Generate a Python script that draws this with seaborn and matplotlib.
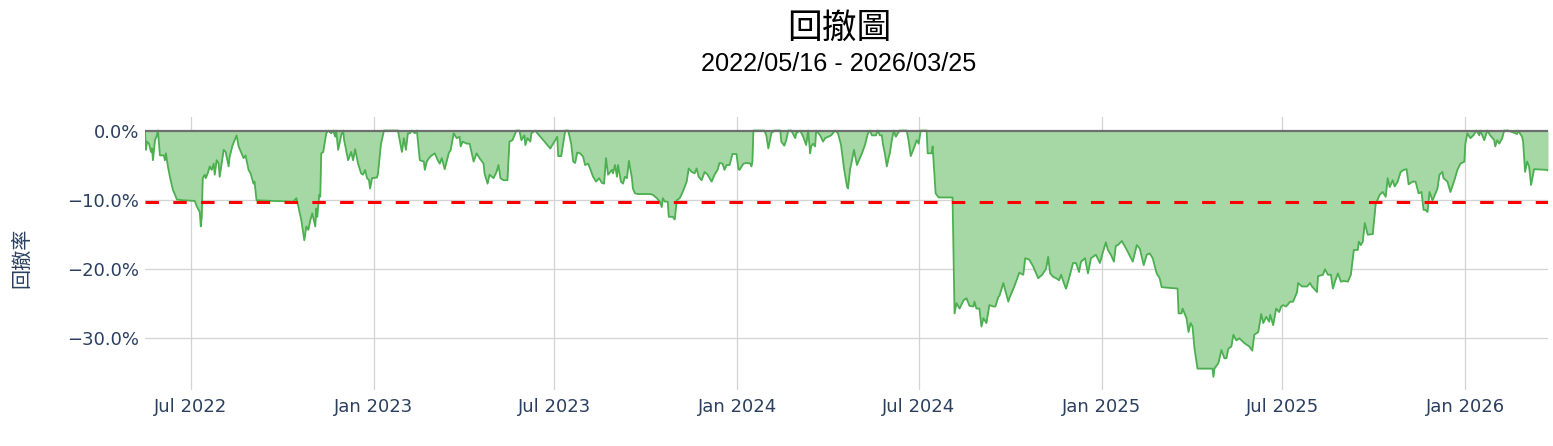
import matplotlib
matplotlib.use("Agg")
import matplotlib.pyplot as plt
import matplotlib.dates as mdates
from matplotlib.ticker import FixedLocator, FuncFormatter
import pandas as pd
import seaborn as sns

# === Dati ===
start_date = "2022-05-16"
end_date = "2026-03-25"
title_text = "回撤圖"
subtitle_text = "2022/05/16 - 2026/03/25"
ylabel_text = "回撤率"
threshold_pct = -10.4
y_ticks = [0, -10, -20, -30]

# giorni dall'inizio, drawdown in %
day_offset = [
    0, 1, 2, 4, 6, 7, 8, 10, 12, 13, 15, 19, 20, 21, 23, 25, 28, 29, 32, 38,
    50, 52, 55, 56, 57, 58, 60, 61, 63, 65, 67, 69, 70, 72, 74, 75, 78, 79, 81, 84,
    85, 88, 90, 92, 94, 97, 99, 101, 104, 106, 109, 110, 112, 129, 149, 152, 154, 157, 160, 162,
    164, 166, 168, 171, 172, 173, 175, 176, 177, 179, 182, 184, 187, 189, 191, 192, 194, 197, 199, 200,
    204, 207, 209, 211, 214, 217, 219, 221, 223, 225, 226, 228, 233, 234, 236, 237, 240, 254, 258, 260,
    262, 264, 266, 268, 271, 273, 275, 276, 280, 281, 283, 285, 288, 291, 294, 296, 298, 301, 305, 307,
    310, 313, 316, 317, 319, 323, 326, 330, 333, 336, 340, 341, 344, 346, 350, 353, 355, 357, 360, 364,
    366, 369, 373, 376, 378, 381, 382, 384, 387, 388, 392, 394, 400, 407, 412, 414, 415, 418, 420, 422,
    425, 428, 430, 432, 434, 437, 440, 442, 445, 447, 450, 453, 456, 459, 461, 463, 465, 469, 470, 472,
    474, 475, 478, 480, 482, 484, 486, 489, 490, 492, 495, 507, 510, 514, 517, 519, 520, 522, 525, 526,
    530, 532, 534, 537, 540, 544, 546, 549, 552, 554, 556, 559, 562, 565, 569, 572, 575, 577, 580, 582,
    584, 587, 590, 594, 596, 597, 601, 604, 608, 609, 610, 611, 622, 624, 626, 629, 632, 638, 639, 642,
    644, 646, 649, 653, 654, 658, 661, 664, 666, 668, 669, 671, 673, 674, 678, 681, 683, 686, 689, 693,
    696, 699, 702, 705, 706, 708, 710, 712, 715, 717, 720, 723, 726, 728, 730, 734, 736, 738, 740, 741,
    743, 745, 747, 748, 750, 752, 754, 756, 758, 765, 767, 769, 772, 775, 777, 779, 785, 786, 790, 791,
    794, 797, 811, 813, 815, 818, 822, 825, 828, 832, 833, 835, 838, 840, 842, 845, 848, 852, 854, 857,
    858, 862, 867, 868, 873, 878, 882, 884, 888, 892, 897, 901, 905, 907, 909, 912, 915, 918, 920, 924,
    925, 928, 932, 935, 938, 940, 944, 947, 950, 955, 959, 962, 965, 967, 970, 973, 975, 977, 981, 986,
    992, 996, 999, 1003, 1006, 1009, 1012, 1016, 1019, 1021, 1037, 1038, 1041, 1042, 1046, 1048, 1050, 1052, 1054, 1057,
    1072, 1073, 1074, 1078, 1081, 1084, 1086, 1088, 1091, 1093, 1096, 1099, 1104, 1109, 1112, 1114, 1118, 1121, 1123, 1126,
    1129, 1130, 1133, 1136, 1139, 1141, 1143, 1146, 1150, 1153, 1157, 1158, 1162, 1167, 1170, 1172, 1177, 1178, 1183, 1185,
    1188, 1191, 1193, 1195, 1198, 1201, 1204, 1208, 1211, 1214, 1218, 1219, 1221, 1223, 1225, 1228, 1233, 1236, 1240, 1243,
    1246, 1248, 1250, 1253, 1255, 1258, 1261, 1264, 1267, 1269, 1273, 1276, 1279, 1282, 1284, 1286, 1288, 1290, 1293, 1294,
    1298, 1300, 1303, 1304, 1308, 1311, 1315, 1318, 1321, 1325, 1326, 1328, 1331, 1334, 1337, 1340, 1341, 1345, 1348, 1351,
    1355, 1356, 1358, 1360, 1363, 1365, 1369, 1378, 1379, 1383, 1384, 1386, 1388, 1390, 1392, 1395, 1408, 1409,
]
drawdown_pct = [
    0.0, -2.8, -1.6, -1.9, -3.1, -2.6, -4.3, -1.4, -0.7, 0.0, -3.6, -3.6, -4.3, -3.3, -5.2, -6.7, -8.6, -8.9, -10.0, -10.1,
    -10.2, -11.0, -11.8, -13.9, -12.5, -6.9, -6.4, -6.9, -6.2, -5.2, -5.7, -4.8, -6.4, -4.3, -4.8, -6.7, -3.8, -2.8, -3.1, -5.2,
    -3.8, -2.1, -1.4, -0.7, -2.3, -3.3, -4.0, -3.6, -5.7, -6.2, -7.7, -7.4, -10.1, -10.2, -10.3, -9.8, -11.0, -13.0, -15.9, -13.9,
    -14.4, -13.0, -12.0, -13.9, -11.3, -12.5, -9.3, -9.6, -3.3, -3.1, -0.4, 0.0, -0.4, 0.0, -0.9, 0.0, -2.8, -0.7, 0.0, -1.4,
    -4.3, -3.1, -4.3, -2.7, -4.8, -6.2, -6.4, -5.7, -6.9, -7.2, -8.4, -6.9, -6.8, -6.2, -3.3, -1.9, 0.0, 0.0, -3.1, -1.1,
    -2.8, -0.4, -0.4, 0.0, -0.4, 0.0, -2.8, -4.3, -4.5, -5.7, -4.5, -4.0, -3.6, -3.3, -4.3, -4.8, -4.0, -5.6, -3.3, -2.8,
    -0.4, -1.1, -0.9, -2.3, -1.6, -1.9, -1.9, -4.5, -3.3, -4.0, -4.8, -6.2, -7.7, -6.4, -6.9, -6.0, -5.0, -6.9, -7.2, -7.2,
    -1.6, -1.4, 0.0, 0.0, -1.4, -0.7, -2.1, -1.1, -1.6, -0.4, 0.0, -0.4, -1.4, -2.6, -1.4, -0.9, -3.7, -3.7, -1.9, 0.0,
    0.0, -1.9, -4.5, -4.7, -3.2, -3.3, -3.8, -5.0, -4.8, -5.5, -6.7, -7.4, -6.9, -7.6, -7.7, -4.0, -6.4, -5.7, -6.2, -5.0,
    -6.7, -5.0, -7.4, -7.7, -6.7, -6.9, -4.4, -6.9, -8.4, -9.1, -9.2, -9.2, -9.3, -9.8, -10.3, -11.1, -9.8, -10.3, -10.3, -12.5,
    -12.5, -12.9, -10.1, -9.8, -8.9, -7.4, -5.5, -6.0, -6.2, -5.5, -6.7, -7.2, -6.0, -6.4, -7.4, -6.4, -5.7, -4.7, -4.8, -5.7,
    -5.0, -5.0, -3.4, -3.4, -5.6, -5.7, -4.8, -4.7, -4.8, -5.2, -4.5, 0.0, 0.0, -0.7, -2.6, -0.4, 0.0, 0.0, -1.6, -2.2,
    -1.4, 0.0, 0.0, -1.1, -0.4, 0.0, -0.9, -2.1, 0.0, -3.3, -2.3, -1.9, -2.3, 0.0, -0.7, -1.6, -1.1, -0.9, -0.7, 0.0,
    -0.4, -2.1, -5.5, -8.1, -8.4, -5.7, -4.3, -2.8, -5.0, -4.3, -3.3, -2.1, -0.4, 0.0, -0.7, -0.7, 0.0, -0.7, -0.7, -1.9,
    -3.3, -5.2, -3.8, -3.3, -1.4, 0.0, -0.9, -0.4, 0.0, 0.0, -1.6, -3.7, -2.6, -1.4, -1.9, 0.0, 0.0, -3.3, -3.3, -2.3,
    -9.1, -9.7, -9.7, -26.5, -25.0, -25.8, -24.6, -24.3, -25.4, -25.5, -24.8, -25.8, -25.8, -28.4, -27.2, -27.9, -25.3, -25.5, -25.5, -24.1,
    -24.0, -22.1, -24.8, -24.3, -22.6, -20.6, -20.9, -18.5, -18.7, -19.7, -21.4, -20.9, -20.0, -18.3, -20.7, -21.2, -21.4, -21.7, -20.9, -22.6,
    -22.9, -21.4, -19.2, -19.2, -20.5, -19.0, -18.5, -20.7, -18.5, -18.0, -19.2, -17.6, -16.2, -17.3, -18.0, -19.0, -16.7, -16.6, -16.0, -17.3,
    -19.0, -16.6, -17.1, -19.5, -18.0, -17.8, -18.5, -20.7, -21.4, -22.7, -22.9, -26.5, -26.5, -25.8, -27.2, -29.2, -27.9, -28.4, -31.6, -34.5,
    -34.5, -35.7, -34.5, -33.7, -31.8, -33.0, -33.0, -31.6, -31.3, -29.6, -30.4, -30.1, -30.8, -31.3, -31.9, -29.6, -29.2, -26.6, -27.9, -27.0,
    -27.7, -26.7, -28.2, -25.8, -26.3, -25.5, -25.3, -25.5, -24.8, -24.8, -23.4, -22.1, -22.6, -22.6, -22.1, -22.6, -23.4, -21.1, -20.9, -20.1,
    -20.9, -20.9, -22.9, -21.9, -20.7, -21.9, -21.8, -21.9, -20.9, -17.3, -17.3, -16.1, -16.6, -16.1, -13.4, -15.1, -15.0, -10.6, -9.3, -8.9,
    -9.6, -6.9, -8.2, -7.2, -8.1, -7.4, -6.0, -5.7, -5.6, -7.8, -7.4, -7.4, -9.1, -8.9, -11.5, -11.5, -11.8, -8.9, -10.1, -9.8,
    -8.4, -6.4, -6.0, -6.9, -7.4, -8.9, -7.2, -5.7, -4.8, -4.5, -1.9, -0.4, -1.1, -0.7, 0.0, -0.7, 0.0, -1.4, 0.0, -0.7,
    -1.4, -2.3, -1.4, -1.9, -1.1, 0.0, 0.0, -0.5, 0.0, -0.9, -1.6, -6.0, -4.5, -5.2, -7.9, -5.6, -5.7, -5.8,
]

df = pd.DataFrame({
    "date": pd.Timestamp(start_date) + pd.to_timedelta(day_offset, unit="D"),
    "drawdown": drawdown_pct,
})

# === Stile ===
sns.set_theme(style="white")
plt.rcParams["font.family"] = ["DejaVu Sans", "Noto Sans CJK TC"]
plt.rcParams["axes.unicode_minus"] = True

W, H = 1553, 446
fig = plt.figure(figsize=(W / 100, H / 100), dpi=100)
ax = fig.add_axes([145 / W, 1 - 390 / H, (1548 - 145) / W, (390 - 117) / H])

tick_color = "#2a3f5f"

ax.fill_between(df["date"], df["drawdown"], 0, color="#a6d8a6", linewidth=0, zorder=2)
sns.lineplot(data=df, x="date", y="drawdown", ax=ax, color="#4caf50", linewidth=1.3, zorder=3)
ax.axhline(0, color="#6e6e6e", linewidth=1.6, zorder=4)
ax.axhline(threshold_pct, color="#ff0000", linewidth=2.2, dashes=(4.4, 4.7), zorder=5)

ax.set_xlim(pd.Timestamp(start_date), pd.Timestamp(end_date))
ax.set_ylim(-37.6, 1.96)

ax.xaxis.set_major_locator(mdates.MonthLocator(bymonth=[1, 7]))
ax.xaxis.set_major_formatter(mdates.DateFormatter("%b %Y"))
ax.yaxis.set_major_locator(FixedLocator(y_ticks))
ax.yaxis.set_major_formatter(FuncFormatter(lambda v, p: f"{v:.1f}%".replace("-", "\u2212")))

ax.grid(True, color="#d3d3d3", linewidth=0.9, zorder=0)
ax.set_axisbelow(True)
for s in ax.spines.values():
    s.set_visible(False)
ax.tick_params(axis="both", length=0, labelsize=13, labelcolor=tick_color)
ax.tick_params(axis="y", pad=4)
ax.tick_params(axis="x", pad=6)
ax.set_xlabel("")
ax.set_ylabel("")

fig.text(22 / W, 1 - 258 / H, ylabel_text, rotation=90, ha="center", va="center",
         fontsize=14.5, color=tick_color, family=["Noto Sans CJK TC", "DejaVu Sans"])
fig.text(839 / W, 1 - 28 / H, title_text, ha="center", va="center",
         fontsize=25, color="black", family=["Noto Sans CJK TC", "DejaVu Sans"])
fig.text(839 / W, 1 - 64 / H, subtitle_text, ha="center", va="center",
         fontsize=18.2, color="black", family=["Liberation Sans", "DejaVu Sans"])

fig.savefig("out.png", dpi=100)
